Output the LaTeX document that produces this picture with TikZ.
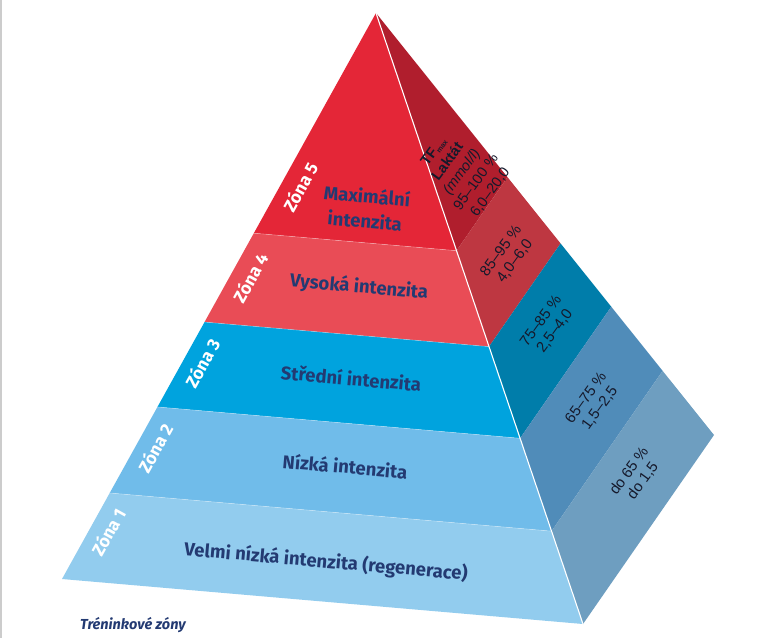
\documentclass[tikz,border=0pt]{standalone}
\usepackage{fontspec}
\setmainfont{Fira Sans}
\newfontfamily\arialf{Liberation Sans}
\usetikzlibrary{calc}
\definecolor{fFive}{HTML}{E42637}
\definecolor{fFour}{HTML}{E94C56}
\definecolor{fThree}{HTML}{00A3DE}
\definecolor{fTwo}{HTML}{70BCEA}
\definecolor{fOne}{HTML}{92CCEE}
\definecolor{rFive}{HTML}{B01E2D}
\definecolor{rFour}{HTML}{BE3741}
\definecolor{rThree}{HTML}{007DAA}
\definecolor{rTwo}{HTML}{508CB9}
\definecolor{rOne}{HTML}{6E9EC0}
\definecolor{navy}{HTML}{233A72}
\definecolor{sidetext}{HTML}{15192B}
\tikzset{
  zonelbl/.style={text=white, font=\bfseries\fontsize{17.5}{17.5}\selectfont, rotate=61, inner sep=0pt},
  mainlbl/.style={text=navy, font=\bfseries\fontsize{18.5}{25}\selectfont, rotate=-5, align=center, inner sep=0pt},
  sidelbl/.style={text=sidetext, font=\arialf\fontsize{15}{17}\selectfont, rotate=54, align=center, inner sep=0pt},
  edgeline/.style={white, opacity=0.35, line width=0.6pt}
}
\begin{document}
\begin{tikzpicture}[x=1pt,y=-1pt]
\useasboundingbox (0,0) rectangle (768,638);
\fill[white] (0,0) rectangle (768,638);
\fill[gray!40] (0,0) rectangle (2,638);
% geometry
\coordinate (A) at (376,13);
\coordinate (BL) at (62,579);
\coordinate (BR) at (583,624);
\coordinate (RR) at (714,435);
\foreach \i/\t in {1/0.389,2/0.546,3/0.696,4/0.848}{
  \coordinate (L\i) at ($(A)!\t!(BL)$);
  \coordinate (M\i) at ($(A)!\t!(BR)$);
  \coordinate (R\i) at ($(A)!\t!(RR)$);
}
% front face
\fill[fFive] (A) -- (L1) -- (M1) -- cycle;
\fill[fFour] (L1) -- (L2) -- (M2) -- (M1) -- cycle;
\fill[fThree] (L2) -- (L3) -- (M3) -- (M2) -- cycle;
\fill[fTwo] (L3) -- (L4) -- (M4) -- (M3) -- cycle;
\fill[fOne] (L4) -- (BL) -- (BR) -- (M4) -- cycle;
% right face
\fill[rFive] (A) -- (M1) -- (R1) -- cycle;
\fill[rFour] (M1) -- (M2) -- (R2) -- (R1) -- cycle;
\fill[rThree] (M2) -- (M3) -- (R3) -- (R2) -- cycle;
\fill[rTwo] (M3) -- (M4) -- (R4) -- (R3) -- cycle;
\fill[rOne] (M4) -- (BR) -- (RR) -- (R4) -- cycle;
% faint band boundaries
\foreach \i in {1,2,3,4}{ \draw[edgeline] (L\i) -- (M\i); }
% front-right edge
\draw[white, line width=1.1pt] (A) -- (BR);
% zone labels
\node[zonelbl] (z5) at (300,187) {Zóna 5};
\node[zonelbl] (z4) at (250,278) {Zóna 4};
\node[zonelbl] (z3) at (202,363) {Zóna 3};
\node[zonelbl] (z2) at (155,448) {Zóna 2};
\node[zonelbl] (z1) at (108,532) {Zóna 1};
% main labels
\node[mainlbl] (t5) at (366,208) {Maximální\\intenzita};
\node[mainlbl] (t4) at (359,287) {Vysoká intenzita};
\node[mainlbl] (t3) at (351,378) {Střední intenzita};
\node[mainlbl] (t2) at (345,466) {Nízká intenzita};
\node[mainlbl] (t1) at (326,562) {Velmi nízká intenzita (regenerace)};
% side labels
\node[sidelbl, font=\arialf\fontsize{14.5}{17.5}\selectfont] (s5) at (462,172) {\textbf{TF}\raisebox{-0.3ex}{\fontsize{7}{7}\selectfont\textbf{max}}\\\textbf{Laktát}\\\textit{(mmol/l)}\\95–100 \%\\6,0–20,0};
\node[sidelbl] (s4) at (508,256) {85–95 \%\\4,0–6,0};
\node[sidelbl] (s3) at (548,326) {75–85 \%\\2,5–4,0};
\node[sidelbl] (s2) at (593,403) {65–75 \%\\1,5–2,5};
\node[sidelbl] (s1) at (636,476) {do 65 \%\\do 1,5};
% caption
\node[text=navy, font=\bfseries\itshape\fontsize{14.5}{15}\selectfont, inner sep=0pt] (cap) at (133,625) {Tréninkové zóny};
\end{tikzpicture}
\end{document}
